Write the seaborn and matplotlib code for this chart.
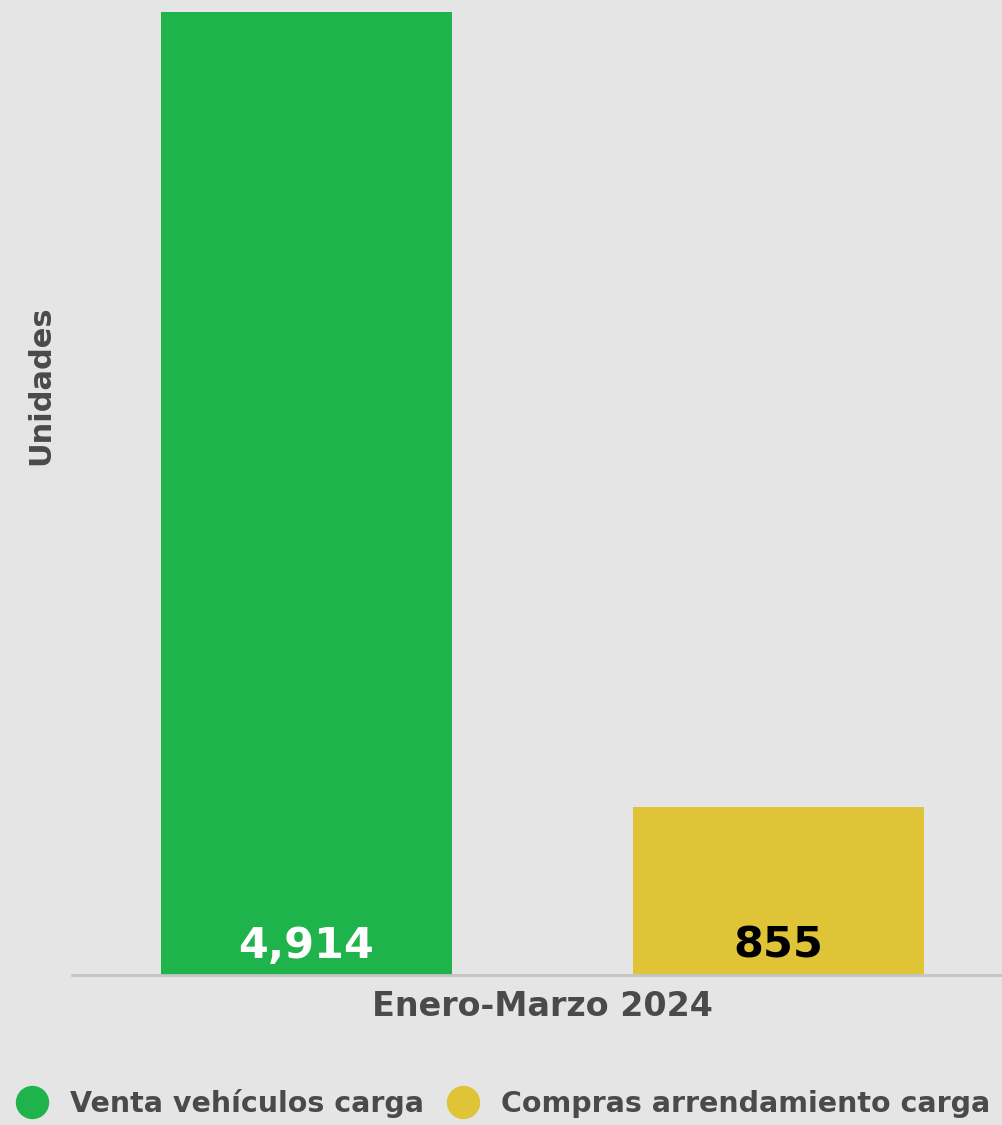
import pandas as pd
import seaborn as sns
from matplotlib import pyplot as plt
from matplotlib.lines import Line2D

# Data
periods = ["Enero-Marzo 2024"]
series = ["Venta vehículos carga", "Compras arrendamiento carga"]
values = [4914, 855]
value_labels = ["4,914", "855"]
colors = ["#1fb44b", "#dfc438"]
label_colors = ["white", "black"]

bg = "#e5e5e5"
text_grey = "#4a4a4a"

sns.set_theme(style="white")
plt.rcParams["font.family"] = ["DejaVu Sans"]

df = pd.DataFrame({
    "periodo": periods * len(series),
    "serie": series,
    "unidades": values,
})

fig = plt.figure(figsize=(10.02, 11.25), dpi=100, facecolor=bg)
ax = fig.add_axes([0.0719, 0.1333, 0.928, 0.856])
ax.set_facecolor(bg)

sns.barplot(data=df, x="periodo", y="unidades", hue="serie",
            hue_order=series, palette=colors, width=0.8, gap=0.3835,
            saturation=1, linewidth=0, ax=ax, legend=False)

# Value labels at the bottom of each bar
for bar, txt, col in zip(ax.patches, value_labels, label_colors):
    ax.annotate(txt, (bar.get_x() + bar.get_width() / 2, 0),
                xytext=(0, 6), textcoords="offset points",
                ha="center", va="bottom", color=col, fontsize=31,
                fontweight="bold")

ax.set_xlim(-0.3987, 0.3893)
ax.set_ylim(0, 4914)
ax.set_yticks([])
ax.set_xlabel("")
ax.set_ylabel("Unidades", fontsize=22, fontweight="bold", color=text_grey)
ax.yaxis.set_label_coords(-0.018, 0.613)
ax.tick_params(axis="x", length=0, labelsize=24, colors=text_grey, pad=11)
for lbl in ax.get_xticklabels():
    lbl.set_fontweight("bold")

for side in ["top", "right", "left"]:
    ax.spines[side].set_visible(False)
ax.spines["bottom"].set_color("#c4c4c4")
ax.spines["bottom"].set_linewidth(2)

# Legend with round markers
handles = [Line2D([], [], marker="o", linestyle="", markersize=23,
                  markerfacecolor=c, markeredgecolor=c) for c in colors]
leg = fig.legend(handles, series, loc="center",
                 bbox_to_anchor=(0.503, 0.0187), ncol=2, frameon=False,
                 fontsize=20.5, handletextpad=0.83, columnspacing=0.87,
                 handlelength=1.0)
for t in leg.get_texts():
    t.set_color(text_grey)
    t.set_fontweight("bold")

fig.savefig("out.png", dpi=100, facecolor=bg)
